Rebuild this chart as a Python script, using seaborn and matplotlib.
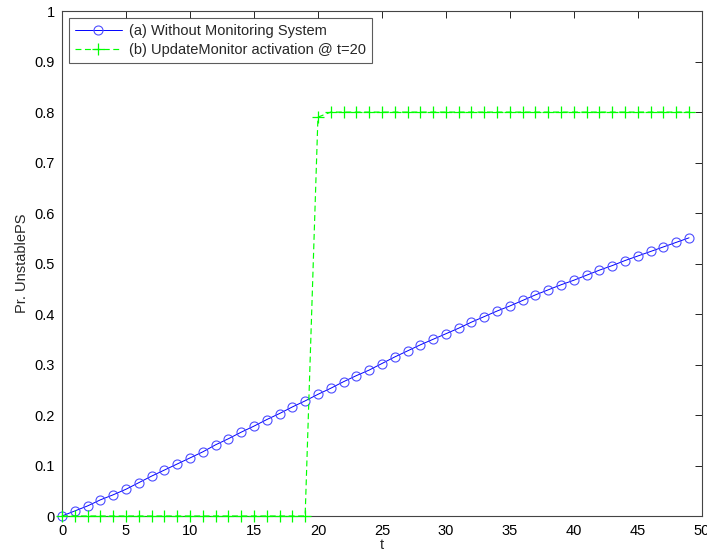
import numpy as np
import pandas as pd
import matplotlib
matplotlib.use("Agg")
import matplotlib.pyplot as plt
import seaborn as sns

# Time steps
t = list(range(50))

# (a) Probability of an unstable PS without the monitoring system
without_monitoring = [
    0.000, 0.010, 0.020, 0.032, 0.042, 0.053, 0.066, 0.079, 0.091, 0.103,
    0.115, 0.127, 0.141, 0.153, 0.166, 0.178, 0.191, 0.203, 0.216, 0.228,
    0.241, 0.253, 0.266, 0.278, 0.289, 0.302, 0.315, 0.327, 0.339, 0.350,
    0.361, 0.372, 0.384, 0.395, 0.406, 0.416, 0.427, 0.438, 0.448, 0.458,
    0.467, 0.477, 0.487, 0.496, 0.506, 0.515, 0.524, 0.533, 0.542, 0.551,
]

# (b) Probability with UpdateMonitor activated at t=20
update_monitor = [0.0] * 20 + [0.79] + [0.80] * 29

labels = ["(a) Without Monitoring System", "(b) UpdateMonitor activation @ t=20"]
x_ticks = list(range(0, 51, 5))
y_ticks = [0, 0.1, 0.2, 0.3, 0.4, 0.5, 0.6, 0.7, 0.8, 0.9, 1]
y_tick_labels = ["0", "0.1", "0.2", "0.3", "0.4", "0.5", "0.6", "0.7", "0.8", "0.9", "1"]

sns.set_style("white")
plt.rcParams["font.family"] = ["Liberation Sans", "DejaVu Sans"]
plt.rcParams["font.size"] = 10.5

fig = plt.figure(figsize=(7.07, 5.53), dpi=100)
ax = fig.add_axes([0.0877, 0.0669, 0.905, 0.913])

blue = (0, 0, 1)
green = (0, 1, 0)

sns.lineplot(x=t, y=without_monitoring, ax=ax, color=blue, linewidth=0.7,
             marker="o", markersize=6.5, markerfacecolor="none",
             markeredgecolor=(0.3, 0.3, 1), markeredgewidth=0.8,
             label=labels[0], clip_on=False, zorder=3)
sns.lineplot(x=t, y=update_monitor, ax=ax, color=green, linewidth=0.85,
             linestyle=(0, (5, 3)), marker="+", markersize=8.5,
             markeredgecolor=green, markeredgewidth=0.9, label=labels[1],
             clip_on=False, zorder=4)

ax.set_xlim(0, 50)
ax.set_ylim(0, 1)
ax.set_xticks(x_ticks)
ax.set_yticks(y_ticks)
ax.set_yticklabels(y_tick_labels)
ax.tick_params(direction="in", length=5, width=0.6, top=True, right=True,
               colors="black", labelsize=10.5)
ax.tick_params(axis="x", pad=6)
ax.tick_params(axis="y", pad=5)
for s in ax.spines.values():
    s.set_visible(True)
    s.set_color("#444444")
    s.set_linewidth(0.8)
    s.set_zorder(2)

ax.set_xlabel("t", fontsize=10.5, labelpad=0)
ax.set_ylabel("Pr. UnstablePS", fontsize=10.5, labelpad=4)

leg = ax.legend(loc="upper left", frameon=True, fancybox=False, fontsize=10.5,
                borderaxespad=0.5, handlelength=3.2, borderpad=0.4,
                labelspacing=0.35, handletextpad=0.5)
leg.get_frame().set_edgecolor("#333333")
leg.get_frame().set_linewidth(0.8)
leg.set_zorder(5)

fig.savefig("out.png", dpi=100, facecolor="white")
